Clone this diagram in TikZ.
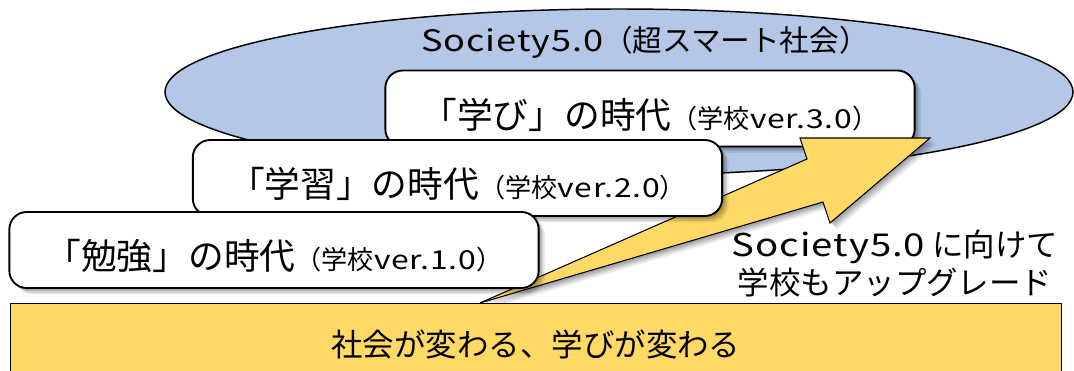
\documentclass[tikz,border=0pt]{standalone}
\usepackage{fontspec}
\setmainfont{Noto Sans CJK JP}
\newfontfamily\lat{Noto Sans CJK JP}[FakeStretch=1.22,LetterSpace=3]
\usetikzlibrary{shapes.geometric,shadows}
\definecolor{sky}{RGB}{180,199,231}
\definecolor{gold}{RGB}{255,217,102}
\tikzset{
  soft/.style={
    general shadow={shadow xshift=1.2pt,shadow yshift=-1.2pt,fill=black,opacity=.12},
    general shadow={shadow xshift=2.4pt,shadow yshift=-2.4pt,fill=black,opacity=.12},
    general shadow={shadow xshift=3.6pt,shadow yshift=-3.6pt,fill=black,opacity=.10},
    general shadow={shadow xshift=4.8pt,shadow yshift=-4.8pt,fill=black,opacity=.08}},
  era/.style={draw=black,line width=1.4pt,fill=white,rounded corners=13pt,
    minimum width=397pt,minimum height=57pt,inner sep=0pt,text height=29.5pt,text depth=0pt,soft}
}
\newcommand{\eratext}[2]{{\fontsize{26.8}{30}\selectfont 「#1」の時代}{\fontsize{19.6}{22}\selectfont （学校{\lat ver.#2}）}}
\begin{document}
\begin{tikzpicture}[x=0.75pt,y=-0.75pt]
\useasboundingbox (0,0) rectangle (1074,371);
% ellipse
\node[ellipse,draw=black,line width=1.1pt,fill=sky,minimum width=681pt,minimum height=124.5pt,inner sep=0pt] (soc) at (619,92) {};
\node[font=\fontsize{22.2}{25}\selectfont] (soct) at (645,42) {{\lat Society5.0}（超スマート社会）};
% era 3
\node[era] (b3) at (650,108.5) {\eratext{学び}{3.0}};
% arrow
\coordinate (tail) at (480,303);
\coordinate (s1) at (807,159);
\coordinate (h1) at (800,138);
\coordinate (tip) at (930,138);
\coordinate (h2) at (830,223);
\coordinate (s2) at (823,202);
\draw[fill=gold,line width=0.8pt,line join=miter,soft] (tail) -- (s1) -- (h1) -- (tip) -- (h2) -- (s2) -- cycle;
% era 2, 1
\node[era] (b2) at (457.5,178) {\eratext{学習}{2.0}};
\node[era] (b1) at (274,250) {\eratext{勉強}{1.0}};
% base
\node[draw=black,line width=0.8pt,fill=gold,minimum width=788pt,minimum height=60pt,inner sep=0pt,anchor=north west,font=\fontsize{23.6}{28}\selectfont,text depth=-16pt] (base) at (10,303) {社会が変わる、学びが変わる};
% right text
\node[align=center,font=\fontsize{23.6}{28.5}\selectfont] (up) at (895,264) {{\lat Society5.0} に向けて\\学校もアップグレード};
\end{tikzpicture}
\end{document}
